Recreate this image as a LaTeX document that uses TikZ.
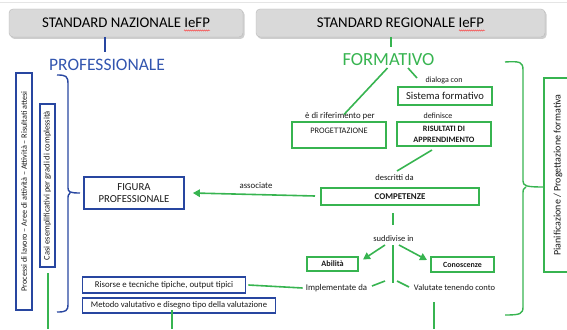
\documentclass[tikz,border=0pt]{standalone}
\usepackage{fontspec}
\setmainfont{Carlito}
\usetikzlibrary{arrows.meta,decorations.pathmorphing}
\definecolor{bl}{RGB}{40,70,160}
\definecolor{blt}{RGB}{50,85,175}
\definecolor{gr}{RGB}{55,180,80}
\definecolor{hdr}{RGB}{217,217,217}
\definecolor{txt}{RGB}{25,25,25}
\begin{document}
\begin{tikzpicture}[x=1pt,y=-1pt,
  hdrbox/.style={draw=gray!55, line width=0.4pt, fill=hdr, rounded corners=4pt, inner sep=0pt, font=\fontsize{14.8}{16}\selectfont, text=black},
  hshadow/.style={fill=gray!70, opacity=.55, rounded corners=4pt},
  bbox/.style={draw=bl, line width=1.8pt, inner sep=0pt, align=center, text=txt},
  gbox/.style={draw=gr, line width=1.8pt, inner sep=0pt, align=center, text=txt},
  gline/.style={draw=gr, line width=1.6pt},
  bline/.style={draw=bl, line width=1.6pt},
  lbl/.style={inner sep=0pt, font=\fontsize{8.5}{10}\selectfont, text=txt},
  garrow/.style={gline, -{Triangle[length=7pt,width=7.5pt]}},
  squig/.style={draw=red!80, line width=0.4pt, decorate, decoration={snake, amplitude=0.6pt, segment length=2pt}},
]
\useasboundingbox (0,0) rectangle (567,329);
\clip (0,0) rectangle (567,329);
\draw[gray!20, line width=1pt] (0,3) -- (567,3);

% headers
\fill[hshadow] (10.5,10.5) rectangle (244.5,39);
\fill[hshadow] (257.5,10.5) rectangle (546.5,39);
\node[hdrbox, minimum width=234, minimum height=28] (hn) at (126,23) {STANDARD NAZIONALE IeFP};
\node[hdrbox, minimum width=289, minimum height=28] (hr) at (400.5,23) {STANDARD REGIONALE IeFP};
\draw[squig] (184,30.5) -- (210,30.5);
\draw[squig] (459,30.5) -- (485,30.5);

% titles
\node[inner sep=0pt, font=\fontsize{17.5}{20}\selectfont, text=blt] (prof) at (107,65) {PROFESSIONALE};
\node[inner sep=0pt, font=\fontsize{18.5}{21}\selectfont, text=gr] (form) at (388.5,60) {FORMATIVO};
\coordinate (t1) at (105,52);
\draw[bline] (t1 |- hn.south) -- (t1);
\coordinate (t2) at (391,47.5);
\draw[gline] (t2 |- hr.south) -- (t2);

% formativo side
\node[gbox, minimum width=94, minimum height=18, font=\fontsize{10.6}{12}\selectfont] (sist) at (445,96) {Sistema formativo};
\node[gbox, minimum width=94, text height=11pt, text depth=15pt, font=\fontsize{8.4}{9}\selectfont] (prog) at (339,135) {PROGETTAZIONE};
\node[gbox, minimum width=94, minimum height=24, font=\fontsize{8.2}{11}\bfseries\selectfont] (ris) at (444,134) {RISULTATI DI\\APPRENDIMENTO};
\node[gbox, minimum width=158, minimum height=17, font=\fontsize{8.9}{10}\bfseries\selectfont] (comp) at (400,196.5) {COMPETENZE};
\node[gbox, minimum width=51, minimum height=14, font=\fontsize{8.2}{9}\bfseries\selectfont] (abil) at (332.5,264) {Abilità};
\node[gbox, minimum width=63, minimum height=15, font=\fontsize{7.9}{9}\bfseries\selectfont] (cono) at (462.5,264.5) {Conoscenze};

\node[lbl, font=\fontsize{8}{9}\selectfont] (ldia) at (444,80) {dialoga con};
\node[lbl, font=\fontsize{8.8}{10}\selectfont] (lrif) at (340,116) {è di riferimento per};
\node[lbl, font=\fontsize{8}{9}\selectfont] (ldef) at (438,116) {definisce};
\node[lbl] (ldes) at (394.5,178) {descritti da};
\node[lbl, font=\fontsize{8.8}{10}\selectfont] (lass) at (256,186) {associate};
\node[lbl] (lsud) at (393.5,239) {suddivise in};
\node[lbl, font=\fontsize{8.8}{10}\selectfont] (limp) at (336.5,288) {Implementate da};
\node[lbl] (lval) at (454.5,288) {Valutate tenendo conto};

% professionale side
\node[bbox, minimum width=100, minimum height=32, font=\fontsize{10.7}{12.5}\selectfont] (fig) at (134,193) {FIGURA\\PROFESSIONALE};
\node[bbox, minimum width=163, minimum height=16, font=\fontsize{8.8}{10}\selectfont] (risorse) at (164,285) {Risorse e tecniche tipiche, output tipici};
\node[bbox, minimum width=193, minimum height=15, font=\fontsize{8.6}{10}\selectfont] (metodo) at (179,305.5) {Metodo valutativo e disegno tipo della valutazione};
\node[bbox, rotate=90, minimum width=237, minimum height=16, font=\fontsize{8.2}{9}\selectfont] (v1) at (24,191.5) {Processi di lavoro – Aree di attività – Attività – Risultati attesi};
\node[bbox, rotate=90, minimum width=163, minimum height=15, font=\fontsize{8.5}{9}\selectfont] (v2) at (47.5,185.5) {Casi esemplificativi per gradi di complessità};
\node[gbox, rotate=90, minimum width=194, minimum height=28, font=\fontsize{10}{12}\selectfont] (pian) at (558,175) {Pianificazione / Progettazione formativa};

% braces
\draw[bline, line width=1.4pt, line join=round] (57,75) .. controls (66,75) and (68,76) .. (68,84) -- (68,188) .. controls (68,192) and (70,193) .. (80,193)
  (70,193) .. controls (68,194) and (68,196) .. (68,200) -- (68,304) .. controls (68,311) and (66,312) .. (57,312);
\draw[gline, line width=1.4pt, line join=round] (505,62) .. controls (520,61) and (523,62) .. (523,70) -- (523,181) .. controls (523,186) and (526,187) .. (544,187)
  (526,187) .. controls (523,188) and (523,190) .. (523,195) -- (523,307) .. controls (523,314) and (520,315) .. (505,315);

% connectors
\coordinate (f1) at (387.5,68); \coordinate (f2) at (344,114.5);
\draw[gline] (f1) -- (f2);
\coordinate (f3) at (408,68); \coordinate (f4) at (417,78);
\draw[gline] (f3) -- (f4);
\coordinate (r1) at (432,150); \coordinate (r2) at (397,171);
\draw[gline] (r1) -- (r2);
\coordinate (c1) at (315,196);
\draw[garrow] (c1) -- ([xshift=8pt]fig.east);
\coordinate (c2) at (393,213); \coordinate (c3) at (393,225);
\draw[gline] (c2) -- (c3);
\coordinate (s0) at (393,245); \coordinate (s1) at (393,283);
\draw[gline] (s0) -- (s1);
\coordinate (sa) at (385,245); \coordinate (sb) at (399,245);
\draw[garrow] (sa) -- (363,259.5);
\draw[garrow] (sb) -- (427,260);
\coordinate (i1) at (385,281); \coordinate (i2) at (372,286);
\draw[gline] (i1) -- (i2);
\coordinate (v1a) at (397,281); \coordinate (v1b) at (409,287);
\draw[gline] (v1a) -- (v1b);
\draw[gline] ([xshift=-3pt]limp.west) -- ([xshift=2pt]risorse.east);
\coordinate (m1) at (172,329);
\draw[gline] ([yshift=4pt]metodo.south -| m1) -- (m1);
\coordinate (g1) at (48,273); \coordinate (g2) at (48,329);
\draw[gline, line width=1.2pt] (g1) -- (g2);
\coordinate (w1) at (434,302); \coordinate (w2) at (434,329);
\draw[gline] (w1) -- (w2);
\end{tikzpicture}
\end{document}
